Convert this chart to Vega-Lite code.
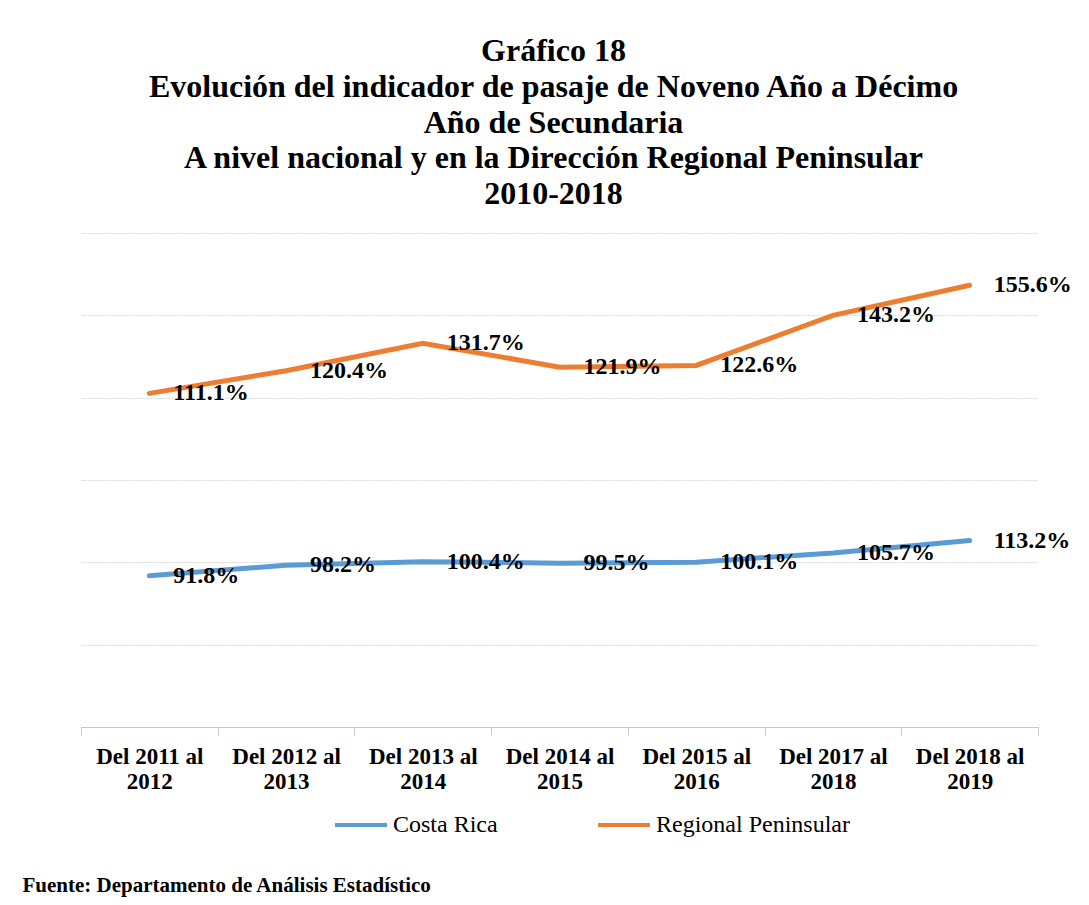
{
  "$schema": "https://vega.github.io/schema/vega-lite/v6.json",
  "autosize": {"type": "none"},
  "width": 957,
  "height": 494,
  "padding": {"left": 81, "top": 233, "right": 51, "bottom": 178},
  "background": "white",
  "title": {
    "text": ["Gráfico 18", "Evolución  del indicador  de pasaje de  Noveno Año  a Décimo", "Año de Secundaria", "A nivel nacional y en la Dirección Regional  Peninsular", "2010-2018"],
    "font": "Liberation Serif",
    "fontSize": 32,
    "fontWeight": "bold",
    "color": "#000000",
    "lineHeight": 35.7,
    "anchor": "middle",
    "offset": 22,
    "dx": -6
  },
  "config": {
    "view": {"stroke": null},
    "font": "Liberation Serif"
  },
  "data": {
    "values": [
      {"periodo": "Del 2011 al 2012", "serie": "Costa Rica", "valor": 0.918},
      {"periodo": "Del 2012 al 2013", "serie": "Costa Rica", "valor": 0.982},
      {"periodo": "Del 2013 al 2014", "serie": "Costa Rica", "valor": 1.004},
      {"periodo": "Del 2014 al 2015", "serie": "Costa Rica", "valor": 0.995},
      {"periodo": "Del 2015 al 2016", "serie": "Costa Rica", "valor": 1.001},
      {"periodo": "Del 2017 al 2018", "serie": "Costa Rica", "valor": 1.057},
      {"periodo": "Del 2018 al 2019", "serie": "Costa Rica", "valor": 1.132},
      {"periodo": "Del 2011 al 2012", "serie": "Regional Peninsular", "valor": 1.111},
      {"periodo": "Del 2012 al 2013", "serie": "Regional Peninsular", "valor": 1.204},
      {"periodo": "Del 2013 al 2014", "serie": "Regional Peninsular", "valor": 1.317},
      {"periodo": "Del 2014 al 2015", "serie": "Regional Peninsular", "valor": 1.219},
      {"periodo": "Del 2015 al 2016", "serie": "Regional Peninsular", "valor": 1.226},
      {"periodo": "Del 2017 al 2018", "serie": "Regional Peninsular", "valor": 1.432},
      {"periodo": "Del 2018 al 2019", "serie": "Regional Peninsular", "valor": 1.556}
    ]
  },
  "encoding": {
    "x": {
      "field": "periodo",
      "type": "nominal",
      "sort": null,
      "scale": {"paddingInner": 0, "paddingOuter": 0},
      "axis": {
        "labelAngle": 0,
        "labelExpr": "[slice(datum.label,0,11), slice(datum.label,12)]",
        "labelFont": "Liberation Serif",
        "labelFontSize": 23,
        "labelFontWeight": "bold",
        "labelColor": "#000000",
        "labelLineHeight": 25,
        "labelPadding": 10,
        "labelLimit": 0,
        "domainColor": "#c9c9c9",
        "tickColor": "#c9c9c9",
        "tickSize": 8,
        "tickBand": "extent",
        "grid": false,
        "title": "Fuente: Departamento de Análisis Estadístico",
        "titleFont": "Liberation Serif",
        "titleFontSize": 21,
        "titleFontWeight": "bold",
        "titleColor": "#000000",
        "titleAnchor": "start",
        "titleAlign": "left",
        "titleBaseline": "middle",
        "titleX": -59,
        "titleY": 158
      }
    }
  },
  "layer": [
    {
      "transform": [{"filter": "datum.serie === 'Costa Rica'"}],
      "encoding": {
        "y": {
          "field": "valor",
          "type": "quantitative",
          "scale": {"domain": [0, 3], "nice": false, "zero": false},
          "axis": {
            "values": [0, 0.5, 1, 1.5, 2, 2.5, 3],
            "labels": false,
            "ticks": false,
            "domain": false,
            "grid": true,
            "gridColor": "#d9d9d9",
            "gridDash": [2, 1],
            "title": null
          }
        }
      },
      "layer": [
        {
          "mark": {"type": "line", "strokeWidth": 5, "strokeCap": "round"},
          "encoding": {
            "color": {
              "field": "serie",
              "type": "nominal",
              "scale": {"domain": ["Costa Rica", "Regional Peninsular"], "range": ["#5b9bd5", "#ed7d31"]},
              "legend": {
                "orient": "none",
                "direction": "horizontal",
                "columns": 2,
                "legendX": 252,
                "legendY": 564,
                "title": null,
                "symbolType": "stroke",
                "symbolSize": 2700,
                "symbolStrokeWidth": 4,
                "labelFont": "Liberation Serif",
                "labelFontSize": 24,
                "labelColor": "#000000",
                "labelLimit": 0,
                "labelOffset": 4,
                "columnPadding": 92
              }
            }
          }
        },
        {
          "mark": {"type": "text", "align": "left", "baseline": "middle", "dx": 24, "font": "Liberation Serif", "fontSize": 24, "fontWeight": "bold", "color": "#000000"},
          "encoding": {"text": {"field": "valor", "type": "quantitative", "format": ".1%"}}
        }
      ]
    },
    {
      "transform": [{"filter": "datum.serie === 'Regional Peninsular'"}],
      "encoding": {
        "y": {
          "field": "valor",
          "type": "quantitative",
          "scale": {"domain": [-0.262, 1.771], "nice": false, "zero": false},
          "axis": null
        }
      },
      "layer": [
        {
          "mark": {"type": "line", "strokeWidth": 5, "strokeCap": "round"},
          "encoding": {
            "color": {"field": "serie", "type": "nominal"}
          }
        },
        {
          "mark": {"type": "text", "align": "left", "baseline": "middle", "dx": 24, "font": "Liberation Serif", "fontSize": 24, "fontWeight": "bold", "color": "#000000"},
          "encoding": {"text": {"field": "valor", "type": "quantitative", "format": ".1%"}}
        }
      ]
    }
  ],
  "resolve": {"scale": {"y": "independent"}}
}
